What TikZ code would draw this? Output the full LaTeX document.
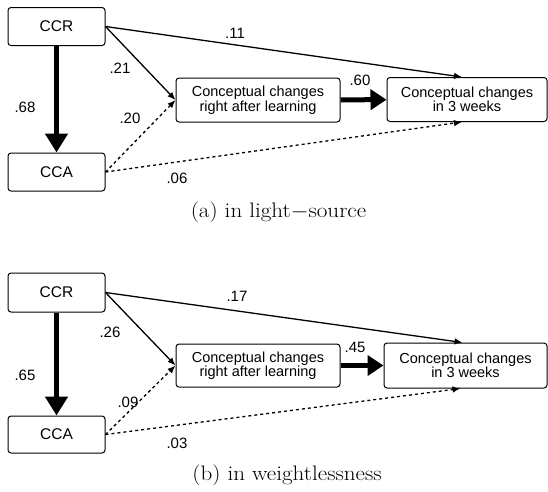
\documentclass[tikz,border=0pt]{standalone}
\usepackage{fontspec}
\setsansfont{Liberation Sans}
\usepackage{graphicx}
\usetikzlibrary{arrows.meta}

\tikzset{
  var/.style={draw, rounded corners=3pt, line width=1pt, inner sep=0pt,
    font=\sffamily\fontsize{15.5}{16}\selectfont, minimum width=97pt, minimum height=38pt},
  outcome/.style={var, align=center, font=\sffamily\fontsize{14.5}{13.5}\selectfont,
    minimum width=164pt, minimum height=44pt},
  link/.style={line width=1.3pt, -{Latex[length=8pt,width=6.5pt]}},
  weak/.style={link, dash pattern=on 3pt off 3pt},
  strong/.style={line width=5pt, -{Triangle[length=19pt,width=22pt]}},
  coef/.style={font=\sffamily\fontsize{15}{15}\selectfont, inner sep=1pt},
  caption/.style={font=\fontsize{21}{24}\selectfont}
}

\begin{document}
\begin{tikzpicture}[x=1pt,y=-1pt]
\useasboundingbox (0,0) rectangle (548,491);

% (a) light-source
\node[var] (ccrA) at (56.5,26.5) {CCR};
\node[var] (ccaA) at (56.5,172) {CCA};
\node[outcome] (midA) at (258,100) {Conceptual changes\\right after learning};
\node[outcome, minimum width=160pt] (endA) at (467,99.5) {Conceptual changes\\in 3 weeks};

\draw[strong] (ccrA) -- (ccaA);
\draw[link] (ccrA.east) -- (midA.west);
\draw[weak] (ccaA.east) -- (midA.west);
\draw[link] (ccrA.east) -- ([xshift=-5pt]endA.north);
\draw[weak] (ccaA.east) -- ([xshift=-5pt]endA.south);
\draw[strong, -{Triangle[length=16pt,width=20pt]}] (midA) -- (endA);

\node[coef] (bA1) at (235,33) {.11};
\node[coef] (bA2) at (120,68) {.21};
\node[coef] (bA3) at (25,107) {.68};
\node[coef] (bA4) at (130,118) {.20};
\node[coef] (bA5) at (177,178) {.06};
\node[coef] (bA6) at (360,80) {.60};

\node[caption] (capA) at (278.5,212.5) {\scalebox{1.1}[1]{(a) in light$-$source}};

% (b) weightlessness
\node[var, minimum height=39pt] (ccrB) at (56.5,292.5) {CCR};
\node[var, minimum height=37pt] (ccaB) at (56.5,434.5) {CCA};
\node[outcome, minimum height=43pt] (midB) at (258,365.5) {Conceptual changes\\right after learning};
\node[outcome, minimum width=163pt, minimum height=45pt] (endB) at (465.5,365.5) {Conceptual changes\\in 3 weeks};

\draw[strong] (ccrB) -- (ccaB);
\draw[link] (ccrB.east) -- (midB.west);
\draw[weak] (ccaB.east) -- (midB.west);
\draw[link] (ccrB.east) -- ([xshift=-3pt]endB.north);
\draw[weak] (ccaB.east) -- ([xshift=-5pt]endB.south);
\draw[strong, -{Triangle[length=16pt,width=20pt]}] (midB) -- (endB);

\node[coef] (bB1) at (237,296) {.17};
\node[coef] (bB2) at (110,332) {.26};
\node[coef] (bB3) at (25,375) {.65};
\node[coef] (bB4) at (128,402) {.09};
\node[coef] (bB5) at (177,443) {.03};
\node[coef] (bB6) at (355,347) {.45};

\node[caption] (capB) at (287,475) {\scalebox{1.1}[1]{(b) in weightlessness}};
\end{tikzpicture}
\end{document}
